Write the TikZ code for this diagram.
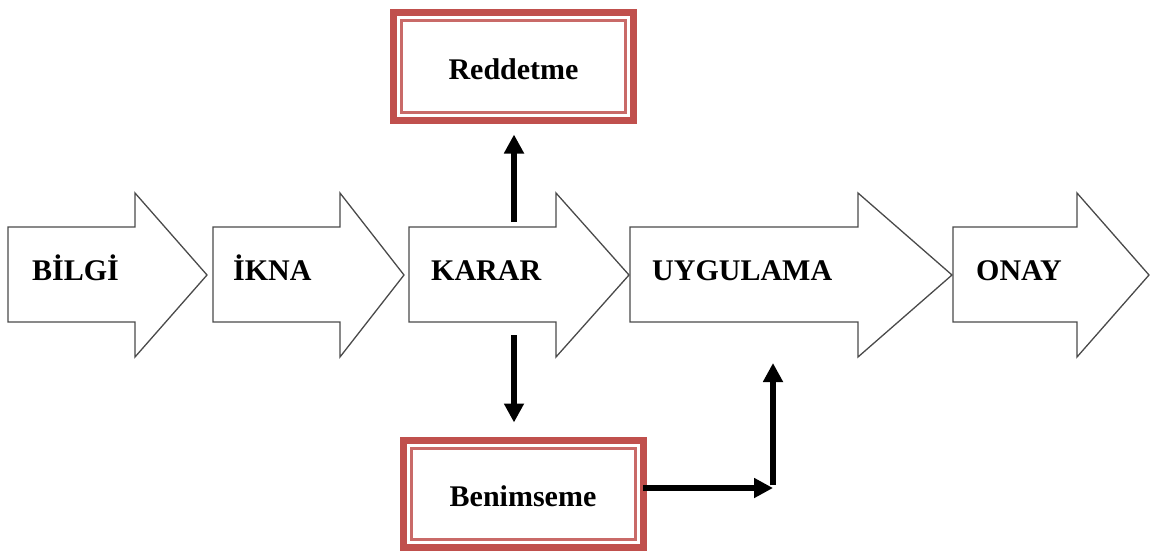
\documentclass[tikz,border=0pt]{standalone}
\usepackage{fontspec}
\setmainfont{Liberation Serif}
\usetikzlibrary{arrows.meta,calc}
\definecolor{boxred}{HTML}{C0504D}
\definecolor{outl}{HTML}{4A4A4A}
\tikzset{
  bigarrow/.style={draw=outl, line width=1.3pt, fill=white, line join=miter},
  steplabel/.style={font=\fontsize{30}{34}\selectfont\bfseries, anchor=base west, inner sep=0pt},
  redbox/.style={draw=boxred, line width=7pt, fill=white, minimum width=240pt, minimum height=107pt, inner sep=0pt, outer sep=0pt, text height=26pt, text depth=0pt, font=\fontsize{30}{34}\selectfont\bfseries},
  innerline/.style={draw=boxred!85, line width=3pt},
  conn/.style={line width=5.5pt, -{Triangle[width=19pt,length=19pt]}},
}
\begin{document}
\begin{tikzpicture}[x=1pt,y=-1pt]
\useasboundingbox (0,0) rectangle (1152,551);

% process arrows
\draw[bigarrow] (8,227) -- (135,227) -- (135,193) -- (207,275) -- (135,357) -- (135,322) -- (8,322) -- cycle;
\draw[bigarrow] (213,227) -- (340,227) -- (340,193) -- (404,275) -- (340,357) -- (340,322) -- (213,322) -- cycle;
\draw[bigarrow] (630,227) -- (858,227) -- (858,193) -- (952,275) -- (858,357) -- (858,322) -- (630,322) -- cycle;
\draw[bigarrow] (409,227) -- (556,227) -- (556,193) -- (629,275) -- (556,357) -- (556,322) -- (409,322) -- cycle;
\draw[bigarrow] (953,227) -- (1077,227) -- (1077,193) -- (1149,275) -- (1077,357) -- (1077,322) -- (953,322) -- cycle;

\node[steplabel] (bilgi) at (32,280) {BİLGİ};
\node[steplabel] (ikna) at (233,280) {İKNA};
\node[steplabel] (karar) at (431,280) {KARAR};
\node[steplabel] (uygulama) at (652,280) {UYGULAMA};
\node[steplabel] (onay) at (976,280) {ONAY};

% boxes
\node[redbox] (red) at (513.5,66.5) {Reddetme};
\draw[innerline] ($(red.north west)+(8,8)$) rectangle ($(red.south east)+(-8,-8)$);
\node[redbox] (ben) at (523,493.5) {Benimseme};
\draw[innerline] ($(ben.north west)+(8,8)$) rectangle ($(ben.south east)+(-8,-8)$);

% connectors
\coordinate (kup) at (514,222);
\coordinate (kdown) at (514,335);
\coordinate (corner) at (773,488);
\coordinate (uygin) at (773,363);
\draw[conn, shorten >=14.5pt] (kup) -- (kup |- red.south);
\draw[conn, shorten >=17.5pt] (kdown) -- (kdown |- ben.north);
\draw[conn] (ben.east |- corner) -- (corner);
\draw[conn] ([yshift=2.75pt]corner) -- (uygin);
\end{tikzpicture}
\end{document}
